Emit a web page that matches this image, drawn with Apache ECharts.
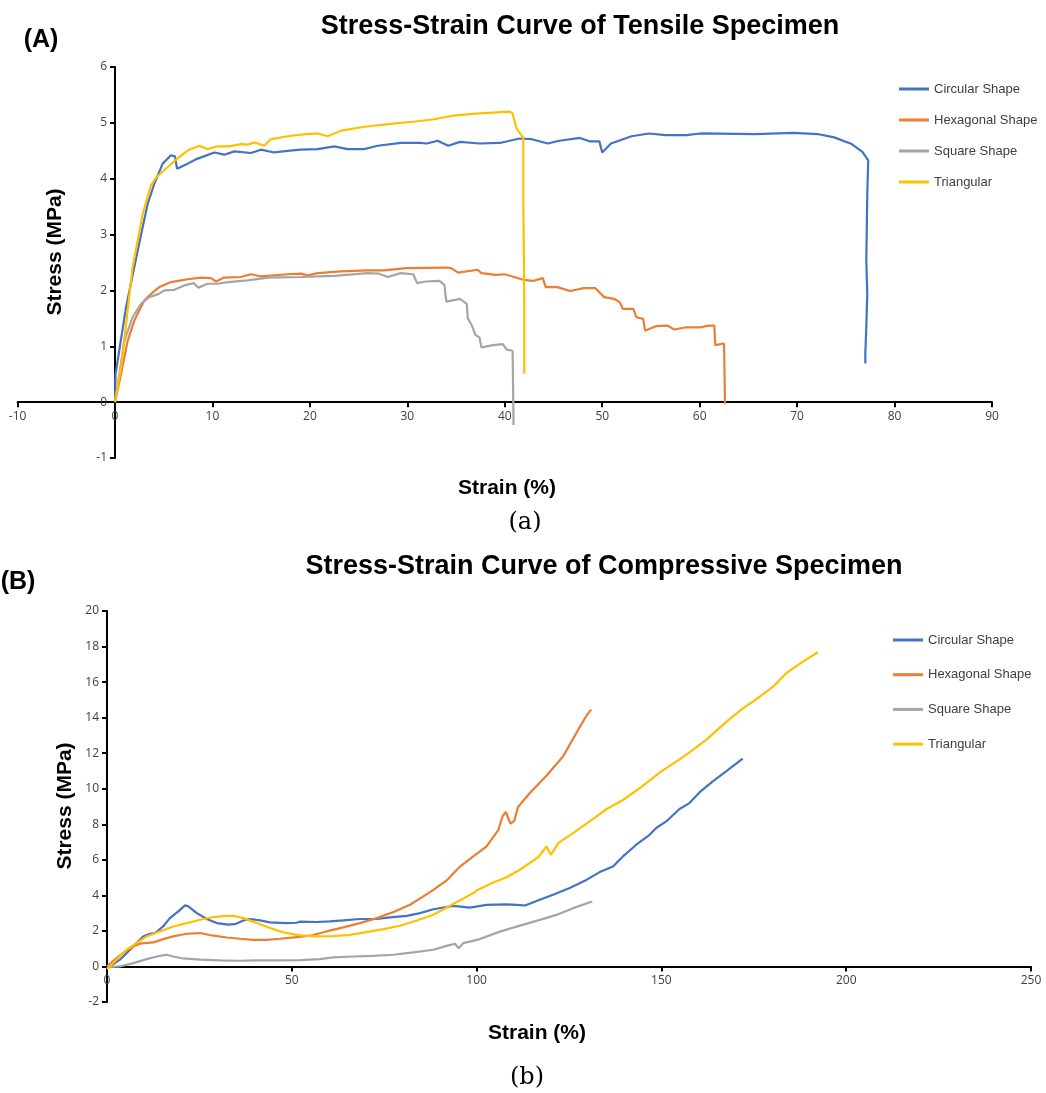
<!DOCTYPE html>
<html><head><meta charset="utf-8">
<script src="https://cdn.jsdelivr.net/npm/echarts@6/dist/echarts.min.js"></script>
<style>html,body{margin:0;padding:0;background:#fff}#c{width:1046px;height:1093px}</style>
</head><body><div id="c"></div>
<script>
const names = ['Circular Shape','Hexagonal Shape','Square Shape','Triangular'];
const colors = ['#4472C4','#ED7D31','#A5A5A5','#FFC000'];

// Tensile (A)
const tCircStrain = [0,0.05,1.13,2.32,3.35,4.03,4.89,5.74,6.15,6.36,7.45,8.48,10.19,11.21,12.24,13.95,14.97,16.34,17.71,19.08,20.79,22.5,23.86,25.57,26.94,29.33,31.3,32.0,33.1,34.2,35.4,37.4,39.5,41.5,42.7,44.4,45.6,47.7,48.7,49.7,50.0,50.9,53.0,54.8,56.5,58.6,60.1,65.7,69.6,72.1,73.8,75.6,76.7,77.3,77.2,77.1,77.2,77.1,77.0,77.0];
const tCircStress = [0,0.5,1.70,2.71,3.55,3.91,4.27,4.42,4.40,4.18,4.27,4.36,4.47,4.43,4.49,4.46,4.52,4.47,4.50,4.52,4.53,4.58,4.53,4.53,4.59,4.64,4.64,4.63,4.68,4.59,4.66,4.63,4.64,4.72,4.71,4.63,4.68,4.73,4.67,4.67,4.47,4.63,4.76,4.81,4.78,4.78,4.81,4.80,4.82,4.80,4.74,4.62,4.48,4.33,3.73,2.54,1.94,1.34,0.87,0.69];
const tHexStrain = [0,0.62,1.3,1.98,3.0,3.69,4.55,5.74,7.45,8.82,9.85,10.36,11.2,12.9,13.95,14.97,17.7,19.1,19.8,20.8,23.2,25.9,27.6,29.9,34.0,34.5,35.2,37.2,37.6,39.1,40.0,41.9,42.9,43.9,44.2,45.4,46.7,48.1,49.3,50.2,51.2,51.8,52.1,53.2,53.5,54.2,54.4,55.5,56.7,57.4,58.6,60.1,60.9,61.5,61.6,62.5,62.6];
const tHexStress = [0,0.51,1.10,1.46,1.82,1.94,2.06,2.15,2.20,2.23,2.22,2.16,2.23,2.24,2.29,2.25,2.29,2.30,2.27,2.31,2.34,2.36,2.36,2.40,2.41,2.40,2.32,2.37,2.31,2.28,2.29,2.19,2.17,2.22,2.06,2.06,1.99,2.04,2.04,1.88,1.85,1.79,1.67,1.67,1.52,1.49,1.28,1.36,1.37,1.30,1.34,1.34,1.37,1.37,1.02,1.05,-0.03];
const tSqStrain = [0,0.96,1.8,2.67,3.5,4.38,5.06,6.08,7.1,8.1,8.55,9.5,10.5,11.6,13.6,15.7,19.1,22.5,25.9,27.1,28.0,29.3,30.6,31.0,31.9,33.3,33.8,34.0,35.4,36.1,36.2,36.6,37.0,37.4,37.6,38.8,39.8,40.2,40.8,40.9];
const tSqStress = [0,1.10,1.52,1.76,1.88,1.93,2.0,2.01,2.09,2.13,2.05,2.12,2.12,2.15,2.18,2.23,2.24,2.26,2.31,2.30,2.24,2.31,2.29,2.13,2.16,2.17,2.10,1.80,1.85,1.76,1.50,1.38,1.20,1.16,0.98,1.02,1.04,0.94,0.92,-0.41];
const tTriStrain = [0,0.62,1.81,2.32,2.84,3.69,4.21,5.4,6.6,7.62,8.65,9.5,10.5,11.7,12.9,13.6,14.3,15.3,16.0,17.7,19.1,20.8,21.8,23.2,25.6,27.6,29.3,30.6,32.6,34.7,37.4,40.5,40.8,41.2,41.9,41.9,42.0,42.0];
const tTriStress = [0,0.63,2.42,2.89,3.37,3.88,4.02,4.21,4.39,4.52,4.59,4.53,4.58,4.58,4.62,4.61,4.65,4.59,4.71,4.76,4.79,4.81,4.76,4.86,4.93,4.97,5.00,5.02,5.06,5.13,5.17,5.20,5.17,4.90,4.73,3.62,1.83,0.51];

// Compressive (B)
const cCircStrain = [0,3.5,7.1,9.8,11.6,13.0,15.2,17.0,19.3,21.1,22.0,24.3,27.0,29.7,32.8,34.6,36.9,38.7,41.4,44.1,48.6,51.3,52.2,56.7,60.3,63.9,68.4,73.0,76.6,81.1,84.7,88.3,93.7,98.2,102.7,108.1,110.8,113.1,117.1,120.7,125.2,129.7,133.3,136.9,139.6,143.2,146.8,148.6,151.3,154.9,157.6,160.3,163.9,167.5,172.0];
const cCircStress = [-0.1,0.38,1.13,1.69,1.84,1.88,2.25,2.72,3.10,3.44,3.38,3.0,2.67,2.44,2.35,2.38,2.59,2.67,2.59,2.48,2.44,2.46,2.52,2.50,2.54,2.59,2.67,2.67,2.76,2.85,3.0,3.22,3.41,3.31,3.46,3.49,3.46,3.43,3.75,4.03,4.41,4.87,5.31,5.62,6.19,6.85,7.41,7.79,8.16,8.86,9.19,9.79,10.41,10.97,11.69];
const cHexStrain = [0,2.6,5.3,7.1,8.9,12.5,15.2,17.9,21.6,25.2,28.8,32.4,36.0,39.6,43.2,46.8,51.3,54.9,59.4,63.9,68.4,73.0,77.5,82.0,85.6,88.3,91.9,95.5,99.1,102.7,105.9,107.0,107.9,109.2,110.2,111.2,114.4,118.9,123.4,127.0,129.7,131.0];
const cHexStress = [0,0.47,0.9,1.13,1.28,1.35,1.54,1.69,1.84,1.88,1.73,1.63,1.56,1.50,1.50,1.56,1.65,1.73,1.97,2.20,2.44,2.72,3.06,3.47,3.94,4.31,4.84,5.62,6.19,6.75,7.69,8.44,8.69,8.03,8.2,8.97,9.76,10.73,11.82,13.14,14.11,14.45];
const cSqStrain = [0,3.5,7.1,10.7,14.3,16.1,17.9,20.6,25.2,30.6,36.0,40.5,45.9,52.2,57.6,61.2,66.6,72.0,77.5,82.9,88.3,91.9,94.1,95.1,96.4,100.9,106.3,110.8,117.1,121.6,126.1,131.3];
const cSqStress = [-0.04,0,0.19,0.41,0.60,0.66,0.56,0.45,0.38,0.34,0.32,0.34,0.34,0.36,0.41,0.51,0.56,0.60,0.66,0.79,0.94,1.16,1.28,1.03,1.31,1.54,1.96,2.24,2.62,2.90,3.28,3.65];
const cTriStrain = [0,2.6,5.3,8.0,10.7,14.3,17.9,21.6,25.2,28.8,32.4,34.2,36.9,40.5,44.1,47.7,52.2,56.7,61.2,65.7,70.2,74.8,79.3,83.8,88.3,91.9,95.5,99.1,100,104.5,108.1,111.7,116.7,118.9,120.1,122.1,126.1,130.6,135.2,139.7,144.2,149.6,156.8,162.2,167.7,172.2,174.9,180.3,183.9,187.5,192.3];
const cTriStress = [-0.15,0.38,0.94,1.31,1.69,1.97,2.25,2.44,2.63,2.78,2.85,2.85,2.72,2.44,2.16,1.92,1.75,1.69,1.71,1.78,1.93,2.10,2.29,2.59,2.91,3.32,3.72,4.13,4.27,4.72,5.02,5.44,6.15,6.75,6.28,6.94,7.50,8.16,8.86,9.38,10.04,10.92,11.92,12.76,13.79,14.55,14.92,15.76,16.52,17.04,17.68];

const zip = (a,b) => a.map((v,i)=>[v,b[i]]);
const tensile = [[tCircStrain,tCircStress],[tHexStrain,tHexStress],[tSqStrain,tSqStress],[tTriStrain,tTriStress]];
const compress = [[cCircStrain,cCircStress],[cHexStrain,cHexStress],[cSqStrain,cSqStress],[cTriStrain,cTriStress]];

// grid geometry (px)
const G1 = {left:17.6, top:67, width:974.4, height:391};
const G2 = {left:107, top:611, width:924, height:391};
// offsets that place each axis on the other's zero
const t_xOff = -(G1.height * (0 - (-1)) / 7);
const t_yOff = -(G1.width * (0 - (-10)) / 100);
const c_xOff = -(G2.height * (0 - (-2)) / 22);

const axisBase = {
  type:'value', splitLine:{show:false},
  axisLine:{show:true,onZero:false,lineStyle:{color:'#000',width:2}},
  axisTick:{show:true,length:5,lineStyle:{color:'#000',width:2}},
  axisLabel:{color:'#404040',fontSize:12,fontFamily:'Open Sans, Liberation Sans, sans-serif',margin:8}
};
const ax = (o) => Object.assign({}, JSON.parse(JSON.stringify(axisBase)), o);

const series = [];
tensile.forEach((d,i)=>series.push({name:names[i],type:'line',xAxisIndex:0,yAxisIndex:0,symbol:'none',
  data:zip(d[0],d[1]),lineStyle:{color:colors[i],width:2.2},itemStyle:{color:colors[i]},clip:false,animation:false}));
compress.forEach((d,i)=>series.push({name:names[i],type:'line',xAxisIndex:1,yAxisIndex:1,symbol:'none',
  data:zip(d[0],d[1]),lineStyle:{color:colors[i],width:2.2},itemStyle:{color:colors[i]},clip:false,animation:false}));

const txt = (text,x,y,font,rot) => ({type:'text',x:x,y:y,rotation:rot||0,
  style:{text:text,font:font,fill:'#000',textAlign:'center',textVerticalAlign:'middle',align:'center',verticalAlign:'middle'}});

const legendText = {fontSize:13,lineHeight:14,color:'#404040',fontFamily:'Liberation Sans, Arial, sans-serif'};

const chart = echarts.init(document.getElementById('c'),null,{renderer:'canvas'});
chart.setOption({
  animation:false,
  backgroundColor:'#fff',
  grid:[
    Object.assign({containLabel:false},G1),
    Object.assign({containLabel:false},G2)
  ],
  xAxis:[ax({gridIndex:0,min:-10,max:90,interval:10,position:'bottom',offset:t_xOff}),
         ax({gridIndex:1,min:0,max:250,interval:50,position:'bottom',offset:c_xOff})],
  yAxis:[ax({gridIndex:0,min:-1,max:6,interval:1,position:'left',offset:t_yOff}),
         ax({gridIndex:1,min:-2,max:20,interval:2,position:'left'})],
  legend:[
    {data:names,orient:'vertical',left:894,top:77,itemWidth:30,itemHeight:3,itemGap:17,icon:'rect',
     textStyle:legendText},
    {data:names,orient:'vertical',left:888,top:628,itemWidth:30,itemHeight:3,itemGap:20.7,icon:'rect',
     textStyle:legendText}
  ],
  graphic:[
    txt('Stress-Strain Curve of Tensile Specimen',580,27,'bold 27px "Liberation Sans", Arial, sans-serif'),
    txt('(A)',41,40,'bold 25px "Liberation Sans", Arial, sans-serif'),
    txt('Stress (MPa)',55,252,'bold 21px "Liberation Sans", Arial, sans-serif',Math.PI/2),
    txt('Strain (%)',507,488,'bold 21px "Liberation Sans", Arial, sans-serif'),
    txt('(a)',525,523,'24px "DejaVu Serif", "Liberation Serif", serif'),
    txt('Stress-Strain Curve of Compressive Specimen',604,567,'bold 27px "Liberation Sans", Arial, sans-serif'),
    txt('(B)',18,582,'bold 25px "Liberation Sans", Arial, sans-serif'),
    txt('Stress (MPa)',65,806,'bold 21px "Liberation Sans", Arial, sans-serif',Math.PI/2),
    txt('Strain (%)',537,1033,'bold 21px "Liberation Sans", Arial, sans-serif'),
    txt('(b)',527,1078,'24px "DejaVu Serif", "Liberation Serif", serif')
  ],
  series:series
});
</script></body></html>
